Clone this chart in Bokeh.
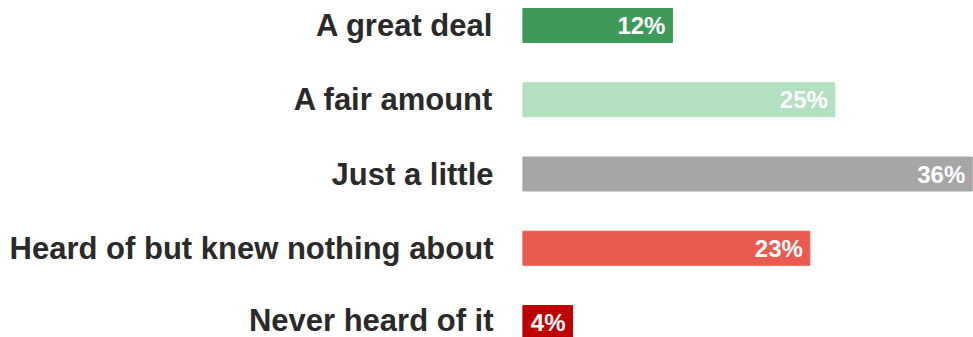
from bokeh.plotting import figure
from bokeh.models import Range1d, FixedTicker, ColumnDataSource
from bokeh.core.properties import value
from bokeh.embed import file_html
from bokeh.resources import INLINE

categories = ["A great deal", "A fair amount", "Just a little",
              "Heard of but knew nothing about", "Never heard of it"]
values = [12, 25, 36, 23, 4]
colors = ["#3d9a58", "#b2e0c0", "#a6a6a6", "#eb5a4f", "#c00000"]

n = len(categories)
ypos = [n - 1 - i for i in range(n)]
src = ColumnDataSource(dict(y=ypos, v=values, c=colors,
                            lab=[f"{v}%" for v in values], cat=categories))

p = figure(width=973, height=337, output_backend="svg", toolbar_location=None,
           x_range=Range1d(0, 36.1), y_range=Range1d(-0.202, 4.337),
           min_border_left=522, min_border_right=0, min_border_top=0, min_border_bottom=0)
p.outline_line_color = None
p.grid.visible = False
p.xaxis.visible = False

p.hbar(y="y", right="v", left=0, height=0.458, color="c", source=src)
p.text(x="v", y="y", text="lab", source=src, x_offset=-7,
       text_align="right", text_baseline="middle", text_color="white",
       text_font=value("Liberation Sans"), text_font_style="bold", text_font_size="24px")

ax = p.yaxis[0]
ax.ticker = FixedTicker(ticks=ypos)
ax.major_label_overrides = {y: c for y, c in zip(ypos, categories)}
ax.axis_line_color = None
ax.major_tick_line_color = None
ax.minor_tick_line_color = None
ax.major_tick_out = 0
ax.major_tick_in = 0
ax.major_label_standoff = 29
ax.major_label_text_font = "Liberation Sans"
ax.major_label_text_font_style = "bold"
ax.major_label_text_font_size = "31px"
ax.major_label_text_color = "#2a2a2a"

open("out.html", "w").write(file_html(p, INLINE))
